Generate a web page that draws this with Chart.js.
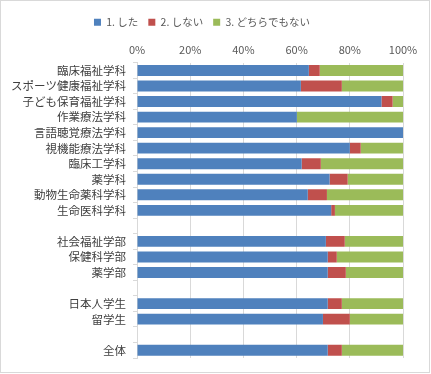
<!DOCTYPE html>
<html><head><meta charset="utf-8">
<script src="https://cdn.jsdelivr.net/npm/chart.js@4"></script>
<style>
html,body{margin:0;padding:0;background:#fff;}
#wrap{position:absolute;left:0;top:0;width:428px;height:371px;border:1px solid #d9d9d9;background:#fff;}
</style></head>
<body>
<div id="wrap"><canvas id="c" width="428" height="371"></canvas></div>
<script>
const categories = ['臨床福祉学科','スポーツ健康福祉学科','子ども保育福祉学科','作業療法学科','言語聴覚療法学科','視機能療法学科','臨床工学科','薬学科','動物生命薬科学科','生命医科学科','','社会福祉学部','保健科学部','薬学部','','日本人学生','留学生','','全体'];
const seriesNames = ['1. した','2. しない','3. どちらでもない'];
const did     = [64.6, 61.6, 91.9, 60.1, 100, 80.0, 61.9, 72.4, 64.2, 73.0, null, 71.0, 71.7, 71.7, null, 71.7, 69.9, null, 71.7];
const didNot  = [4.1, 15.4, 4.2, 0, 0, 4.1, 7.2, 6.8, 7.2, 1.4, null, 7.1, 3.4, 6.8, null, 5.3, 10.1, null, 5.3];
const neither = [31.3, 23.0, 3.9, 39.9, 0, 15.9, 30.9, 20.8, 28.6, 25.6, null, 21.9, 24.9, 21.5, null, 23.0, 20.0, null, 23.0];
const xTicks = [0, 20, 40, 60, 80, 100];

const FONT = '"Noto Sans CJK JP", "Noto Sans", sans-serif';
const colors = ['#4f81bd', '#c0504d', '#9bbb59'];
const values = [did, didNot, neither];

new Chart(document.getElementById('c'), {
  type: 'bar',
  data: {
    labels: categories,
    datasets: seriesNames.map((n, i) => ({
      label: n, data: values[i], backgroundColor: colors[i], borderWidth: 0,
      categoryPercentage: 1, barPercentage: 0.7
    }))
  },
  options: {
    indexAxis: 'y',
    responsive: false,
    animation: false,
    layout: { padding: { left: 0, right: 26, top: 6, bottom: 14 } },
    plugins: {
      legend: {
        position: 'top',
        labels: { boxWidth: 7, boxHeight: 7, color: '#595959', font: { family: FONT, size: 10.5 }, padding: 10 }
      },
      tooltip: { enabled: false }
    },
    scales: {
      x: {
        position: 'top', stacked: true, min: 0, max: 100,
        afterBuildTicks: s => { s.ticks = xTicks.map(v => ({ value: v })); },
        ticks: { color: '#595959', font: { family: FONT, size: 11 }, callback: v => v + '%', padding: 6 },
        grid: { color: '#d9d9d9', drawTicks: false },
        border: { display: false }
      },
      y: {
        stacked: true,
        afterFit: s => { s.width = 136; },
        ticks: { color: '#404040', font: { family: FONT, size: 11.5 }, padding: 7, autoSkip: false },
        grid: { offset: true, drawOnChartArea: false, color: '#d9d9d9', tickLength: 4 },
        border: { display: true, color: '#d9d9d9' }
      }
    }
  }
});
</script>
</body></html>
